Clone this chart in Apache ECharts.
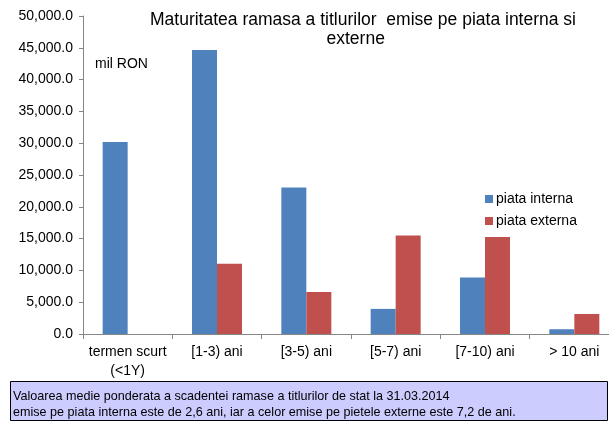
<!DOCTYPE html>
<html>
<head>
<meta charset="utf-8">
<script src="https://cdn.jsdelivr.net/npm/echarts@6/dist/echarts.min.js"></script>
<style>
  html, body { margin: 0; padding: 0; background: #fff; overflow: hidden; }
  /* the last category runs past the right edge in the original, so the canvas is a bit wider than the window */
  #chart { width: 620px; height: 422px; }
</style>
</head>
<body>
<div id="chart"></div>
<script>
var categories = ['termen scurt\n(<1Y)', '[1-3) ani', '[3-5) ani', '[5-7) ani', '[7-10) ani', '> 10 ani'];
var piataInterna = [30200, 44650, 23050, 3950, 8900, 750];
var piataExterna = [0, 11050, 6600, 15500, 15250, 3150];
var yTicks = { min: 0, max: 50000, interval: 5000 };

var font = 'Liberation Sans, Arial, sans-serif';
var chart = echarts.init(document.getElementById('chart'));

var option = {
  animation: false,
  color: ['#4f81bd', '#c0504d'],
  textStyle: { fontFamily: font },
  title: {
    text: 'Maturitatea ramasa a titlurilor  emise pe piata interna si\nexterne   ',
    left: 358,
    top: 6,
    textAlign: 'center',
    textStyle: {
      fontFamily: font,
      fontSize: 17.5,
      fontWeight: 'normal',
      color: '#000',
      lineHeight: 19
    }
  },
  legend: {
    data: ['piata interna', 'piata externa'],
    orient: 'vertical',
    left: 480,
    top: 187,
    itemWidth: 8,
    itemHeight: 8,
    itemGap: 8,
    icon: 'rect',
    textStyle: { fontFamily: font, fontSize: 14, color: '#000', padding: [0, 0, 0, -2] }
  },
  grid: {
    left: 83,
    top: 16,
    width: 536,
    bottom: 88,
    containLabel: false
  },
  xAxis: {
    type: 'category',
    data: categories,
    axisLine: { lineStyle: { color: '#868686' } },
    axisTick: { show: true, length: 5, lineStyle: { color: '#868686' } },
    axisLabel: {
      interval: 0,
      margin: 9,
      fontFamily: font,
      fontSize: 14,
      color: '#000',
      lineHeight: 19
    }
  },
  yAxis: {
    type: 'value',
    min: yTicks.min,
    max: yTicks.max,
    interval: yTicks.interval,
    axisLine: { show: true, lineStyle: { color: '#868686' } },
    axisTick: { show: true, length: 4, lineStyle: { color: '#868686' } },
    splitLine: { show: false },
    axisLabel: {
      margin: 10,
      fontFamily: font,
      fontSize: 14,
      color: '#000',
      formatter: function (v) {
        return v.toLocaleString('en-US', { minimumFractionDigits: 1, maximumFractionDigits: 1 });
      }
    }
  },
  series: [{
    name: 'piata interna',
    type: 'bar',
    barWidth: 25,
    barGap: '0%',
    data: piataInterna
  }, {
    name: 'piata externa',
    type: 'bar',
    barWidth: 25,
    barGap: '0%',
    data: piataExterna
  }],
  graphic: [{
    type: 'text',
    left: 95,
    top: 57,
    style: { text: 'mil RON', font: '14px ' + font, fill: '#000' }
  }, {
    type: 'rect',
    shape: { x: 10.5, y: 381.5, width: 597, height: 39 },
    style: { fill: '#ccccff', stroke: '#000', lineWidth: 1 }
  }, {
    type: 'text',
    x: 13,
    y: 390,
    style: {
      text: 'Valoarea medie ponderata a scadentei ramase a titlurilor de stat la 31.03.2014',
      font: '12.6px ' + font,
      fill: '#000'
    }
  }, {
    type: 'text',
    x: 13,
    y: 406,
    style: {
      text: 'emise pe piata interna este de 2,6 ani, iar a celor emise pe pietele externe este 7,2 de ani.',
      font: '12.6px ' + font,
      fill: '#000'
    }
  }]
};

chart.setOption(option);
</script>
</body>
</html>
